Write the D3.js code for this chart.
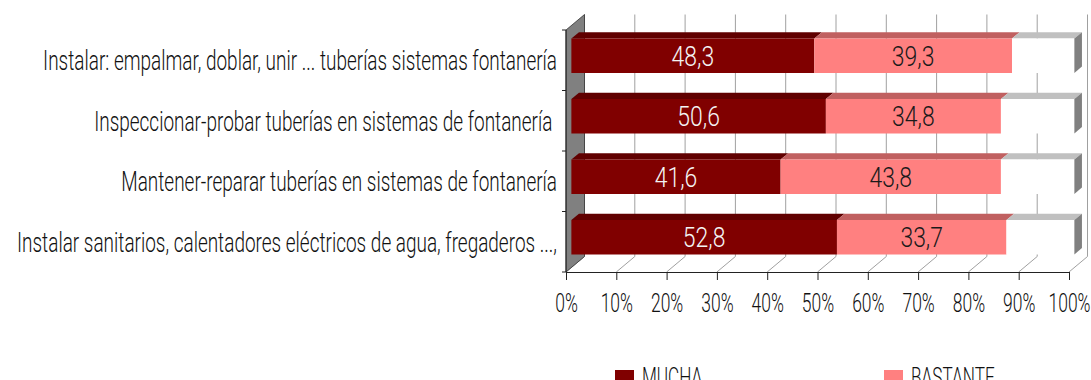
<!DOCTYPE html>
<html>
<head>
<meta charset="utf-8">
<script src="https://cdn.jsdelivr.net/npm/d3@7"></script>
<style>
  html, body { margin: 0; padding: 0; background: #fff; }
  svg { display: block; }
  text { font-family: Roboto, "Liberation Sans", Arial, sans-serif; font-weight: 300; white-space: pre; }
</style>
</head>
<body>
<svg id="chart" width="1091" height="380"></svg>
<script>
// Categories (top to bottom) and the two stacked series, in percent
const categories = [
  "Instalar: empalmar, doblar, unir ... tuberías sistemas fontanería",
  "Inspeccionar-probar tuberías en sistemas de fontanería ",
  "Mantener-reparar tuberías en sistemas de fontanería",
  "Instalar sanitarios, calentadores eléctricos de agua, fregaderos ...,"
];
const mucha    = [48.3, 50.6, 41.6, 52.8];
const bastante = [39.3, 34.8, 43.8, 33.7];
const seriesNames = ["MUCHA", "BASTANTE"];
const tickValues = [0, 10, 20, 30, 40, 50, 60, 70, 80, 90, 100];
const tickLabels = ["0%", "10%", "20%", "30%", "40%", "50%", "60%", "70%", "80%", "90%", "100%"];

const svg = d3.select("#chart");

// Front plane scales plus an oblique depth vector for the 3D box
const x = d3.scaleLinear().domain([0, 100]).range([566, 1069]);
const y = d3.scaleBand().domain(categories).range([30, 272])
  .paddingInner(0.433).paddingOuter(0.2165);
const depth = { dx: 18.5, dy: -15.5 };
const P = (v, py, z) => [x(v) + z * depth.dx, py + z * depth.dy];
const poly = pts => "M" + pts.map(p => p.join(",")).join("L") + "Z";

const yTop = y.range()[0], yBot = y.range()[1];
const fmt = d3.formatLocale({ decimal: ",", thousands: ".", grouping: [3], currency: ["", ""] }).format(".1f");

// Back wall grid lines
const g = svg.append("g");
g.selectAll("line.back").data(tickValues).join("line")
  .attr("class", "back")
  .attr("x1", d => P(d, yTop, 1)[0]).attr("y1", P(0, yTop, 1)[1])
  .attr("x2", d => P(d, yBot, 1)[0]).attr("y2", P(0, yBot, 1)[1])
  .attr("stroke", "#a0a0a0").attr("stroke-width", 1);

// Floor grid lines
g.selectAll("line.floor").data(tickValues).join("line")
  .attr("class", "floor")
  .attr("x1", d => x(d)).attr("y1", yBot)
  .attr("x2", d => P(d, yBot, 1)[0]).attr("y2", P(0, yBot, 1)[1])
  .attr("stroke", "#a0a0a0").attr("stroke-width", 1);

// Left side wall
g.append("path")
  .attr("d", poly([P(0, yTop, 0), P(0, yTop, 1), P(0, yBot, 1), P(0, yBot, 0)]))
  .attr("fill", "#808080").attr("stroke", "#333").attr("stroke-width", 0.8);

// Stacked 3D bars
const zf = 0.29, zb = 0.70;
const rows = categories.map((c, i) => {
  const a = mucha[i], b = bastante[i];
  return {
    cat: c,
    segs: [
      { s: 0, e: a, v: a, front: "#800000", top: "#600000", label: "#f4f4f4" },
      { s: a, e: a + b, v: b, front: "#ff8080", top: "#c06060", label: "#1a1a1a" },
      { s: a + b, e: 100, v: null, front: "#ffffff", top: "#c0c0c0", side: "#808080" }
    ]
  };
});

const bars = svg.append("g");
rows.forEach(r => {
  const y0 = y(r.cat), y1 = y(r.cat) + y.bandwidth();
  const rg = bars.append("g");
  r.segs.forEach(s => {
    rg.append("path")
      .attr("d", poly([P(s.s, y0, zf), P(s.s, y0, zb), P(s.e, y0, zb), P(s.e, y0, zf)]))
      .attr("fill", s.top);
    rg.append("path")
      .attr("d", poly([P(s.s, y0, zf), P(s.e, y0, zf), P(s.e, y1, zf), P(s.s, y1, zf)]))
      .attr("fill", s.front);
    if (s.side) {
      rg.append("path")
        .attr("d", poly([P(s.e, y0, zf), P(s.e, y0, zb), P(s.e, y1, zb), P(s.e, y1, zf)]))
        .attr("fill", s.side);
    }
    if (s.v !== null) {
      const cx = (P(s.s, y0, zf)[0] + P(s.e, y0, zf)[0]) / 2;
      const cy = (P(s.s, y0, zf)[1] + P(s.s, y1, zf)[1]) / 2;
      rg.append("text")
        .attr("transform", `translate(${cx},${cy + 9.8}) scale(0.85,1)`)
        .attr("text-anchor", "middle")
        .attr("font-size", 27)
        .attr("fill", s.label)
        .text(fmt(s.v));
    }
  });
});

// Front vertical axis with category separators
const axisG = svg.append("g");
axisG.append("line")
  .attr("x1", x(0)).attr("x2", x(0)).attr("y1", yTop).attr("y2", yBot)
  .attr("stroke", "#222").attr("stroke-width", 1);
axisG.selectAll("line.sep").data(d3.range(categories.length + 1)).join("line")
  .attr("class", "sep")
  .attr("x1", x(0) - 4).attr("x2", x(0))
  .attr("y1", d => yTop + d * y.step()).attr("y2", d => yTop + d * y.step())
  .attr("stroke", "#222").attr("stroke-width", 1);

// Category labels
svg.append("g").selectAll("text").data(categories).join("text")
  .attr("transform", d => `translate(557,${y(d) + y.bandwidth() / 2 + 10}) scale(0.69,1)`)
  .attr("text-anchor", "end")
  .attr("font-size", 27.5)
  .attr("fill", "#111")
  .text(d => d);

// Bottom percentage axis
const xAxis = d3.axisBottom(x)
  .tickValues(tickValues)
  .tickFormat((d, i) => tickLabels[i])
  .tickSize(8)
  .tickSizeOuter(0);
const xg = svg.append("g").attr("transform", `translate(0,${yBot})`).call(xAxis);
xg.select(".domain").attr("stroke", "#222");
xg.selectAll(".tick line").attr("stroke", "#222");
xg.selectAll(".tick text")
  .attr("y", 22.5)
  .attr("font-size", 25)
  .attr("font-family", null)
  .attr("fill", "#111")
  .attr("transform", "scale(0.7,1)");

// Legend
const legendColors = ["#800000", "#ff8080"];
const lg = svg.append("g").selectAll("g").data(seriesNames).join("g")
  .attr("transform", (d, i) => `translate(${615 + i * 269},370)`);
lg.append("rect").attr("width", 19).attr("height", 19).attr("fill", (d, i) => legendColors[i]);
lg.append("text")
  .attr("transform", "translate(27,16) scale(0.66,1)")
  .attr("font-size", 26)
  .attr("fill", "#111")
  .text(d => d);
</script>
</body>
</html>
